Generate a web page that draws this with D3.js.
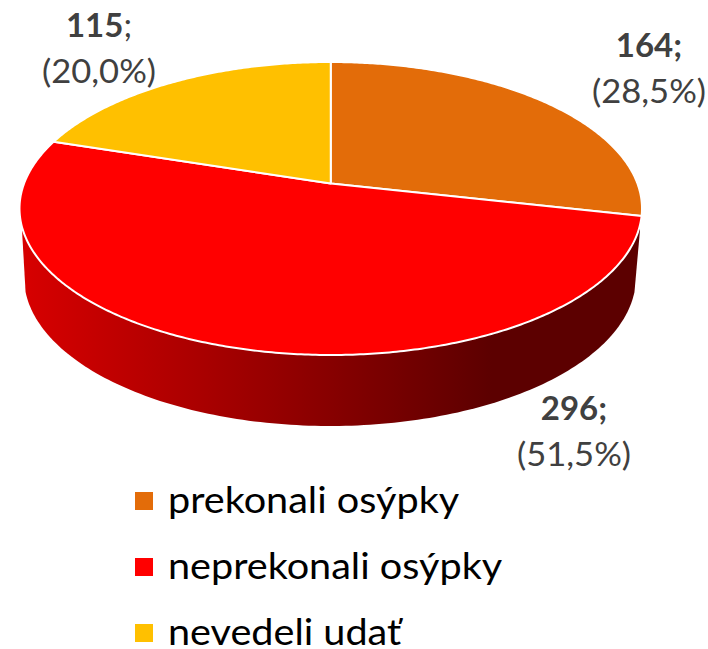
<!DOCTYPE html>
<html>
<head>
<meta charset="utf-8">
<script src="https://cdn.jsdelivr.net/npm/d3@7"></script>
<style>
  html, body { margin: 0; padding: 0; background: #fff; }
  text { font-family: Lato, "Open Sans", sans-serif; }
</style>
</head>
<body>
<div id="chart-area"></div>
<script>
// Data
var categories = ["prekonali osýpky", "neprekonali osýpky", "nevedeli udať"];
var counts = [164, 296, 115];
var colors = ["#e36c09", "#ff0000", "#ffc000"];

var width = 708, height = 649;

var svg = d3.select("#chart-area").append("svg")
    .attr("width", width)
    .attr("height", height)
    .style("display", "block");

// top face of the pie, an ellipse seen in perspective
var x = d3.scaleLinear().domain([-1, 1]).range([19.5, 642]);
var y = d3.scaleLinear().domain([-1, 1]).range([62, 355]);
var tilt = -0.17;

function project(a) {
  var u = Math.sin(a), v = -Math.cos(a);
  var w = 1 + tilt * v;
  return [x(u * Math.sqrt(1 - tilt * tilt) / w), y((v + tilt) / w)];
}
// where the centre of the pie lands
var hub = [x(0), y(tilt)];

var pie = d3.pie().sort(null)(counts);
var line = d3.line();

// side wall
var rimX = d3.scaleLinear().domain([-1, 1]).range([24, 636]);
var rimY = d3.scaleLinear().domain([-1, 1]).range([128, 426]);

var defs = svg.append("defs");
var grad = defs.append("linearGradient")
    .attr("id", "wall")
    .attr("gradientUnits", "userSpaceOnUse")
    .attr("x1", 20).attr("x2", 641).attr("y1", 0).attr("y2", 0);
grad.append("stop").attr("offset", "0").attr("stop-color", "#d80000");
grad.append("stop").attr("offset", "0.3").attr("stop-color", "#a80000");
grad.append("stop").attr("offset", "0.76").attr("stop-color", "#5c0000");
grad.append("stop").attr("offset", "1").attr("stop-color", "#5c0000");

var rim = d3.range(0.1, Math.PI - 0.1, 0.02).map(function(t) {
  return [rimX(Math.cos(t)), rimY(Math.sin(t))];
});
var wall = [[640, 230]].concat(rim).concat([[22, 230], [22, 212], [640, 212]]);

svg.append("path")
    .attr("d", line(wall) + "Z")
    .attr("fill", "url(#wall)");

// slices
svg.selectAll("path.slice")
    .data(pie)
  .enter().append("path")
    .attr("class", "slice")
    .attr("d", function(d) {
      var pts = d3.range(d.startAngle, d.endAngle, 0.01).map(project);
      pts.push(project(d.endAngle));
      return line([hub].concat(pts)) + "Z";
    })
    .attr("fill", function(d, i) { return colors[i]; })
    .attr("stroke", "#fff")
    .attr("stroke-width", 2)
    .attr("stroke-linejoin", "round");

// value labels
var labelX = [649, 574, 99];
var labelY = [57, 420, 37];

var labels = svg.selectAll("g.label")
    .data(pie)
  .enter().append("g")
    .attr("class", "label")
    .attr("transform", function(d, i) { return "translate(" + labelX[i] + "," + labelY[i] + ")"; })
    .attr("text-anchor", "middle")
    .attr("fill", "#404040");

labels.append("text")
    .attr("font-size", 33)
    .each(function(d, i) {
      var t = d3.select(this);
      t.append("tspan").attr("font-weight", 700).text(d.data);
      // the last label has a plain semicolon
      t.append("tspan").attr("font-weight", i == 2 ? 400 : 700).text(";");
    });

labels.append("text")
    .attr("font-size", 32)
    .attr("transform", "translate(0,46) scale(1.08,1)")
    .text(function(d) {
      return "(" + (d.data / d3.sum(counts) * 100).toFixed(1).replace(".", ",") + "%)";
    });

// legend
var legend = svg.selectAll("g.legend")
    .data(categories)
  .enter().append("g")
    .attr("class", "legend")
    .attr("transform", function(d, i) { return "translate(135," + (492 + i * 66) + ")"; });

legend.append("rect")
    .attr("width", 18)
    .attr("height", 18)
    .attr("fill", function(d, i) { return colors[i]; });

legend.append("text")
    .attr("transform", "translate(33,21) scale(1.1,1)")
    .attr("font-size", 36)
    .attr("fill", "#000")
    .text(function(d) { return d; });
</script>
</body>
</html>
